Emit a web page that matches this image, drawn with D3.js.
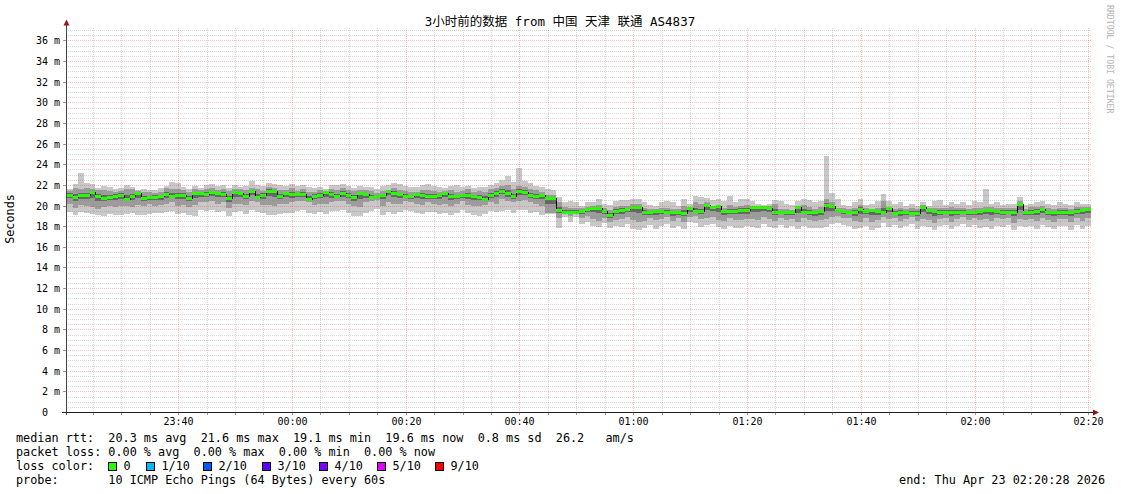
<!DOCTYPE html>
<html><head><meta charset="utf-8">
<script src="https://cdn.jsdelivr.net/npm/d3@7"></script>
<style>
body{margin:0;background:#fff}
svg{display:block}
text{font-family:"DejaVu Sans Mono","Noto Sans CJK SC",monospace;fill:#000}
</style>
</head><body>
<svg id="c" width="1121" height="494"></svg>
<script>
// ---------------- data ----------------
const startTime = new Date(2026, 3, 22, 23, 20, 28);
const endTime = new Date(2026, 3, 23, 2, 20, 28);
const stepMinutes = 1;

const medianRtt = [
21.06,20.83,21.0,21.02,21.28,20.96,20.77,20.86,20.96,21.06,
20.67,20.93,21.19,20.7,20.8,20.86,20.9,21.16,20.96,21.06,
21.05,20.74,21.19,21.25,21.16,21.28,21.26,21.12,20.7,21.28,
21.19,20.96,21.41,20.86,21.06,21.45,21.45,20.9,21.19,21.09,
21.09,21.09,20.67,20.96,21.06,21.28,21.09,20.93,21.19,21.06,
20.8,21.19,21.09,20.8,20.9,21.0,21.45,21.19,21.09,20.9,
20.9,21.09,21.03,20.9,20.93,21.0,21.19,20.9,20.93,21.0,
21.0,20.93,20.86,20.67,21.06,21.19,21.45,21.19,20.9,21.45,
21.32,20.99,20.96,21.06,20.7,20.7,19.57,19.4,19.4,19.4,
19.51,19.63,19.79,19.73,19.44,19.09,19.51,19.57,19.63,19.82,
19.82,19.41,19.35,19.48,19.51,19.41,19.38,19.35,19.31,19.73,
19.48,19.44,20.03,19.86,19.92,19.44,19.48,19.51,19.57,19.57,
19.82,19.82,19.82,19.79,19.41,19.41,19.41,19.38,19.86,19.41,
19.38,19.38,19.44,20.03,19.92,19.57,19.51,19.41,19.38,19.7,
19.51,19.54,19.44,19.41,19.79,19.28,19.38,19.35,19.31,19.31,
19.86,19.57,19.44,19.41,19.41,19.38,19.38,19.38,19.41,19.35,
19.48,19.54,19.54,19.48,19.41,19.41,19.41,20.15,19.41,19.38,
19.48,19.63,19.35,19.35,19.38,19.41,19.41,19.48,19.57,19.63
];
const pingMax = [
21.6,22.1,23.2,22.2,22.1,21.7,21.9,21.8,21.6,21.7,
22.0,21.8,21.5,21.6,21.5,21.5,21.7,21.9,22.3,22.2,
21.8,21.6,21.9,21.7,22.0,22.1,21.9,22.0,21.7,22.0,
21.8,21.9,22.4,22.0,21.9,22.2,22.1,22.0,21.9,22.1,
21.9,22.0,21.8,21.7,21.8,21.6,22.0,22.0,22.1,21.9,
21.7,21.9,21.8,21.8,21.6,21.9,22.0,22.2,22.1,21.9,
21.8,21.8,22.0,22.1,21.9,21.8,21.7,21.9,22.0,21.8,
21.9,21.7,21.8,21.8,22.0,22.2,22.5,22.9,22.3,23.6,
22.4,22.2,21.9,21.8,21.6,21.5,20.8,20.3,20.4,20.3,
20.0,20.3,20.3,20.6,20.2,20.1,20.4,20.5,20.5,20.6,
20.6,20.3,20.1,20.0,20.3,20.4,20.3,20.0,20.6,20.2,
20.9,20.8,20.7,20.5,20.6,20.4,20.9,20.3,20.6,20.6,
20.4,20.2,20.1,20.2,20.5,20.4,20.2,20.1,20.4,20.6,
20.5,20.3,20.4,24.8,21.2,20.6,20.1,20.0,20.3,20.6,
20.1,20.2,20.4,21.1,20.4,20.2,20.3,20.0,20.2,20.0,
20.3,20.0,20.4,20.5,20.1,20.3,20.2,20.3,20.1,20.4,
20.3,21.6,20.2,20.3,20.1,20.2,20.2,20.8,20.1,20.2,
20.3,20.4,20.2,20.1,20.3,20.2,20.1,20.3,20.2,20.2
];
const pingUpper = [
21.4,21.7,21.6,21.7,21.6,21.5,21.5,21.4,21.3,21.4,
21.6,21.6,21.4,21.3,21.3,21.2,21.3,21.7,21.6,21.6,
21.5,21.3,21.6,21.5,21.6,21.7,21.5,21.6,21.4,21.6,
21.6,21.5,21.7,21.6,21.4,21.8,21.7,21.5,21.5,21.7,
21.4,21.6,21.3,21.3,21.5,21.3,21.6,21.5,21.7,21.5,
21.4,21.5,21.5,21.4,21.2,21.4,21.5,21.7,21.5,21.4,
21.3,21.3,21.5,21.5,21.4,21.3,21.4,21.5,21.3,21.4,
21.6,21.3,21.4,21.3,21.6,21.7,21.9,22.0,21.6,21.9,
21.8,21.6,21.5,21.3,21.0,21.0,20.3,19.9,19.8,19.8,
19.8,19.9,20.0,20.1,19.8,19.6,19.9,20.0,20.0,20.2,
20.2,19.8,19.7,19.7,19.8,19.8,19.7,19.7,20.0,19.9,
20.3,20.2,20.3,19.9,20.1,19.8,20.1,19.9,20.0,20.1,
20.0,20.0,20.0,20.0,20.2,19.7,19.7,19.6,19.9,20.1,
19.9,19.7,19.9,20.6,20.3,19.8,19.8,19.7,19.8,20.1,
19.8,19.7,19.8,20.4,19.9,19.7,19.8,19.7,19.8,19.7,
20.1,19.8,19.8,19.8,19.8,19.9,19.8,19.8,19.7,19.8,
19.8,19.9,19.9,19.8,19.8,19.8,19.8,20.4,19.7,19.9,
19.9,20.0,19.8,19.7,19.8,19.8,19.7,19.9,19.9,19.9
];
const pingLower = [
20.2,19.8,20.1,20.0,19.9,19.7,19.9,20.0,19.9,20.0,
20.0,19.9,20.1,20.0,20.2,20.0,20.1,20.2,20.3,20.0,
20.1,19.9,20.1,20.3,20.3,20.4,20.2,20.3,19.8,20.2,
20.2,20.1,20.4,20.3,20.1,20.1,20.0,20.2,20.2,20.3,
20.4,20.4,20.3,20.1,20.2,20.2,20.3,20.4,20.4,20.2,
20.0,19.9,20.3,20.4,20.5,20.0,20.3,20.2,20.2,20.4,
20.3,20.2,20.1,20.3,20.2,20.1,20.2,20.0,20.2,20.4,
20.1,20.0,20.0,20.1,20.3,20.2,20.6,20.4,20.3,20.4,
20.5,20.3,20.2,20.0,19.3,19.3,18.8,19.2,19.0,19.2,
18.8,19.0,18.7,18.5,18.8,18.4,18.6,18.7,18.9,18.6,
18.4,18.5,18.8,18.6,18.7,18.9,18.5,18.8,18.4,18.9,
19.0,18.7,18.8,18.9,18.6,18.5,18.8,18.6,18.6,18.7,
18.7,18.6,18.9,18.7,18.5,18.8,18.6,18.7,18.4,18.8,
18.6,18.5,18.6,18.7,18.9,19.0,18.8,18.8,18.5,18.4,
18.8,18.4,18.6,18.9,18.7,18.8,18.5,18.7,18.9,18.5,
18.7,18.6,18.3,18.7,18.8,18.4,18.7,18.9,18.6,18.8,
18.6,18.7,18.5,18.8,18.7,18.8,18.3,18.7,18.6,18.7,
18.5,18.8,18.6,18.4,18.7,18.7,18.4,18.8,18.5,18.8
];
const pingMin = [
19.4,19.1,19.4,19.3,19.2,19.1,19.0,19.2,19.1,19.1,
19.2,19.3,19.1,19.1,19.2,19.3,19.3,19.4,19.5,19.2,
19.3,19.1,19.0,19.6,19.5,19.6,19.4,19.5,19.0,19.4,
19.5,19.2,19.6,19.4,19.3,19.1,19.1,19.2,19.3,19.3,
19.5,19.6,19.3,19.2,19.4,19.2,19.5,19.5,19.6,19.3,
19.0,19.0,19.3,19.5,19.7,19.1,19.4,19.2,19.4,19.6,
19.5,19.3,19.2,19.4,19.4,19.2,19.3,19.1,19.3,19.6,
19.3,19.1,19.0,19.2,19.5,19.4,19.5,19.6,19.3,19.6,
19.6,19.3,19.4,19.1,19.2,19.2,17.8,18.9,18.4,18.9,
18.2,18.4,18.0,17.9,18.3,17.8,18.0,17.9,18.2,17.7,
17.6,17.8,18.1,17.7,18.0,18.2,17.8,18.0,17.7,18.4,
18.3,17.9,18.1,18.2,17.9,17.7,18.0,17.8,17.8,18.0,
17.9,17.8,18.2,17.9,17.8,18.1,17.8,18.0,17.7,18.0,
17.8,17.8,17.8,17.9,18.2,18.3,18.1,18.0,17.7,17.8,
18.0,17.6,17.8,18.3,17.9,18.1,17.8,18.0,18.2,17.7,
18.0,17.9,17.6,18.0,18.1,17.7,18.0,18.2,17.9,18.1,
17.8,17.9,17.7,18.0,17.9,18.1,17.6,18.0,17.9,18.0,
17.7,18.1,17.9,17.7,18.0,18.0,17.6,18.1,17.7,18.0
];

const yTickValues = [0,2,4,6,8,10,12,14,16,18,20,22,24,26,28,30,32,34,36];
const yTickLabels = ["0  ","2 m","4 m","6 m","8 m","10 m","12 m","14 m","16 m","18 m","20 m","22 m","24 m","26 m","28 m","30 m","32 m","34 m","36 m"];
const xTickTimes = [
  new Date(2026,3,22,23,40), new Date(2026,3,23,0,0), new Date(2026,3,23,0,20),
  new Date(2026,3,23,0,40), new Date(2026,3,23,1,0), new Date(2026,3,23,1,20),
  new Date(2026,3,23,1,40), new Date(2026,3,23,2,0), new Date(2026,3,23,2,20)];
const xTickLabels = ["23:40","00:00","00:20","00:40","01:00","01:20","01:40","02:00","02:20"];

const titleText = "3小时前的数据 from 中国 天津 联通 AS4837";
const statLines = [
  "median rtt:  20.3 ms avg  21.6 ms max  19.1 ms min  19.6 ms now  0.8 ms sd  26.2   am/s",
  "packet loss: 0.00 % avg  0.00 % max  0.00 % min  0.00 % now",
  "loss color:",
  "probe:       10 ICMP Echo Pings (64 Bytes) every 60s"
];
const lossLabels = ["0","1/10","2/10","3/10","4/10","5/10","9/10"];
const lossColors = ["#26ff00","#00b8ff","#0059ff","#5e00ff","#7e00ff","#dd00ff","#ff0000"];
const endText = "end: Thu Apr 23 02:20:28 2026";

// ---------------- drawing ----------------
const svg = d3.select("#c");
const X0 = 67, X1 = 1091, YB = 412, YT = 27;
const x = d3.scaleTime().domain([startTime, endTime]).range([X0, X1]);
const y = d3.scaleLinear().domain([0, 37.3]).range([YB, YT]);
const ry = v => Math.round(y(v));
const rx = t => Math.round(x(t));

const steps = medianRtt.map((m, i) => ({
  t0: d3.timeMinute.offset(startTime, i * stepMinutes),
  t1: d3.timeMinute.offset(startTime, (i + 1) * stepMinutes),
  med: m, lo: pingMin[i], lq: pingLower[i], uq: pingUpper[i], hi: pingMax[i]
}));

// dotted-line patterns (1px on / 1px off), pixel exact
const defs = svg.append("defs");
function dotPattern(id, w, h, col) {
  const p = defs.append("pattern").attr("id", id).attr("patternUnits", "userSpaceOnUse")
    .attr("x", 0).attr("y", 0).attr("width", w).attr("height", h);
  p.append("rect").attr("x", 0).attr("y", 0).attr("width", 1).attr("height", 1).attr("fill", col);
}
const minorCol = "rgba(128,128,128,0.32)", majorCol = "rgba(255,40,40,0.3)";
dotPattern("hMin", 2, 1, minorCol);
dotPattern("vMin", 1, 2, minorCol);
dotPattern("hMaj", 2, 1, majorCol);
dotPattern("vMaj", 1, 2, majorCol);

// smoke
const gData = svg.append("g").attr("shape-rendering", "crispEdges");
function band(cls, color, f0, f1) {
  gData.selectAll("rect." + cls).data(steps).join("rect")
    .attr("class", cls)
    .attr("x", d => rx(d.t0))
    .attr("width", d => rx(d.t1) - rx(d.t0))
    .attr("y", d => ry(f1(d)))
    .attr("height", d => Math.max(1, ry(f0(d)) - ry(f1(d))))
    .attr("fill", color);
}
band("light", "#c8c8c8", d => d.lo, d => d.hi);
band("mid", "#9c9c9c", d => d.lq, d => d.uq);
band("dark", "#666666", d => d.lq + (d.med - d.lq) * 0.6, d => d.med + (d.uq - d.med) * 0.35);

// median: black step line + loss-coloured bars
const line = d3.line().curve(d3.curveStepAfter).x(d => rx(d.t)).y(d => ry(d.v) + 0.5);
const medPts = steps.map(d => ({t: d.t0, v: d.med})).concat([{t: endTime, v: medianRtt[medianRtt.length - 1]}]);
gData.append("path").attr("d", line(medPts)).attr("fill", "none").attr("stroke", "#000").attr("stroke-width", 1);
gData.selectAll("rect.med").data(steps).join("rect")
  .attr("class", "med")
  .attr("x", d => rx(d.t0))
  .attr("width", d => rx(d.t1) - rx(d.t0))
  .attr("y", d => ry(d.med) - 1)
  .attr("height", 3)
  .attr("fill", lossColors[0]);

// grid painted on top (as rrdtool does), semi-transparent dotted
const gGrid = svg.append("g").attr("shape-rendering", "crispEdges");
const minorH = d3.range(0.5, 37.3, 0.5).filter(v => v % 2 !== 0);
const minorV = d3.timeMinute.every(5).range(startTime, endTime).filter(t => t.getMinutes() % 20 !== 0);
const majorV = d3.timeMinute.every(20).range(startTime, endTime);
function hLines(cls, vals, pat) {
  gGrid.selectAll("rect." + cls).data(vals).join("rect").attr("class", cls)
    .attr("x", X0 + 1).attr("width", X1 - X0).attr("y", d => ry(d)).attr("height", 1)
    .attr("fill", "url(#" + pat + ")");
}
function vLines(cls, vals, pat) {
  gGrid.selectAll("rect." + cls).data(vals).join("rect").attr("class", cls)
    .attr("x", d => rx(d)).attr("width", 1).attr("y", YT).attr("height", YB - YT)
    .attr("fill", "url(#" + pat + ")");
}
hLines("hmin", minorH, "hMin");
vLines("vmin", minorV, "vMin");
hLines("hmaj", yTickValues.slice(1), "hMaj");
vLines("vmaj", majorV, "vMaj");

// ticks
const gTick = svg.append("g").attr("shape-rendering", "crispEdges");
gTick.selectAll("line.xt").data(minorV.concat(majorV)).join("line").attr("class", "xt")
  .attr("x1", d => rx(d) + 0.5).attr("x2", d => rx(d) + 0.5)
  .attr("y1", YB).attr("y2", YB + 3).attr("stroke", "#999");
gTick.selectAll("line.yt").data(yTickValues).join("line").attr("class", "yt")
  .attr("x1", 63).attr("x2", 66).attr("y1", d => ry(d) + 0.5).attr("y2", d => ry(d) + 0.5)
  .attr("stroke", "#999");

// axes lines & arrows
svg.append("line").attr("x1", 66.5).attr("x2", 66.5).attr("y1", YB + 3).attr("y2", 22).attr("stroke", "#444");
svg.append("line").attr("x1", 62).attr("x2", 1094).attr("y1", YB + 0.5).attr("y2", YB + 0.5).attr("stroke", "#222");
svg.append("path").attr("d", "M63.5,25.5 L69.5,25.5 L66.5,19.5 Z").attr("fill", "#8b1a1a");
svg.append("path").attr("d", "M1093,409.5 L1093,415.5 L1099,412.5 Z").attr("fill", "#8b1a1a");

// y labels
svg.append("g").selectAll("text").data(yTickValues).join("text")
  .attr("x", 60).attr("y", d => ry(d) + 0.5).attr("dy", "0.35em")
  .attr("text-anchor", "end").style("white-space", "pre")
  .attr("font-size", 10)
  .text((d, i) => yTickLabels[i]);

// x labels
svg.append("g").selectAll("text").data(xTickTimes).join("text")
  .attr("x", d => rx(d) + 0.5).attr("y", 425)
  .attr("text-anchor", "middle").attr("font-size", 10)
  .text((d, i) => xTickLabels[i]);

// title
svg.append("text").attr("x", 560).attr("y", 26).attr("text-anchor", "middle")
  .attr("font-size", 12.5).text(titleText);

// y axis title
svg.append("text").attr("transform", "translate(14,219) rotate(-90)")
  .attr("text-anchor", "middle").attr("font-size", 11.8).text("Seconds");

// watermark
svg.append("text").attr("transform", "translate(1107,5) rotate(90)")
  .attr("font-size", 8.2).style("fill", "#b4b4b4").text("RRDTOOL / TOBI OETIKER");

// stats lines
const lineY = [442, 456, 470, 484];
svg.append("g").selectAll("text").data(statLines).join("text")
  .attr("x", 16).attr("y", (d, i) => lineY[i])
  .attr("font-size", 11.8).style("white-space", "pre")
  .text(d => d);

// loss colour legend
const boxX = [108, 146, 203, 262, 319, 377, 435];
const lg = svg.append("g");
lg.selectAll("rect").data(lossColors).join("rect")
  .attr("x", (d, i) => boxX[i] + 0.5).attr("y", 462.5).attr("width", 8).attr("height", 8)
  .attr("fill", d => d).attr("stroke", "#000");
lg.selectAll("text").data(lossLabels).join("text")
  .attr("x", (d, i) => boxX[i] + 15.5).attr("y", 470).attr("font-size", 11.8)
  .text(d => d);

svg.append("text").attr("x", 1105).attr("y", 484).attr("text-anchor", "end")
  .attr("font-size", 11.8).text(endText);
</script>
</body></html>
